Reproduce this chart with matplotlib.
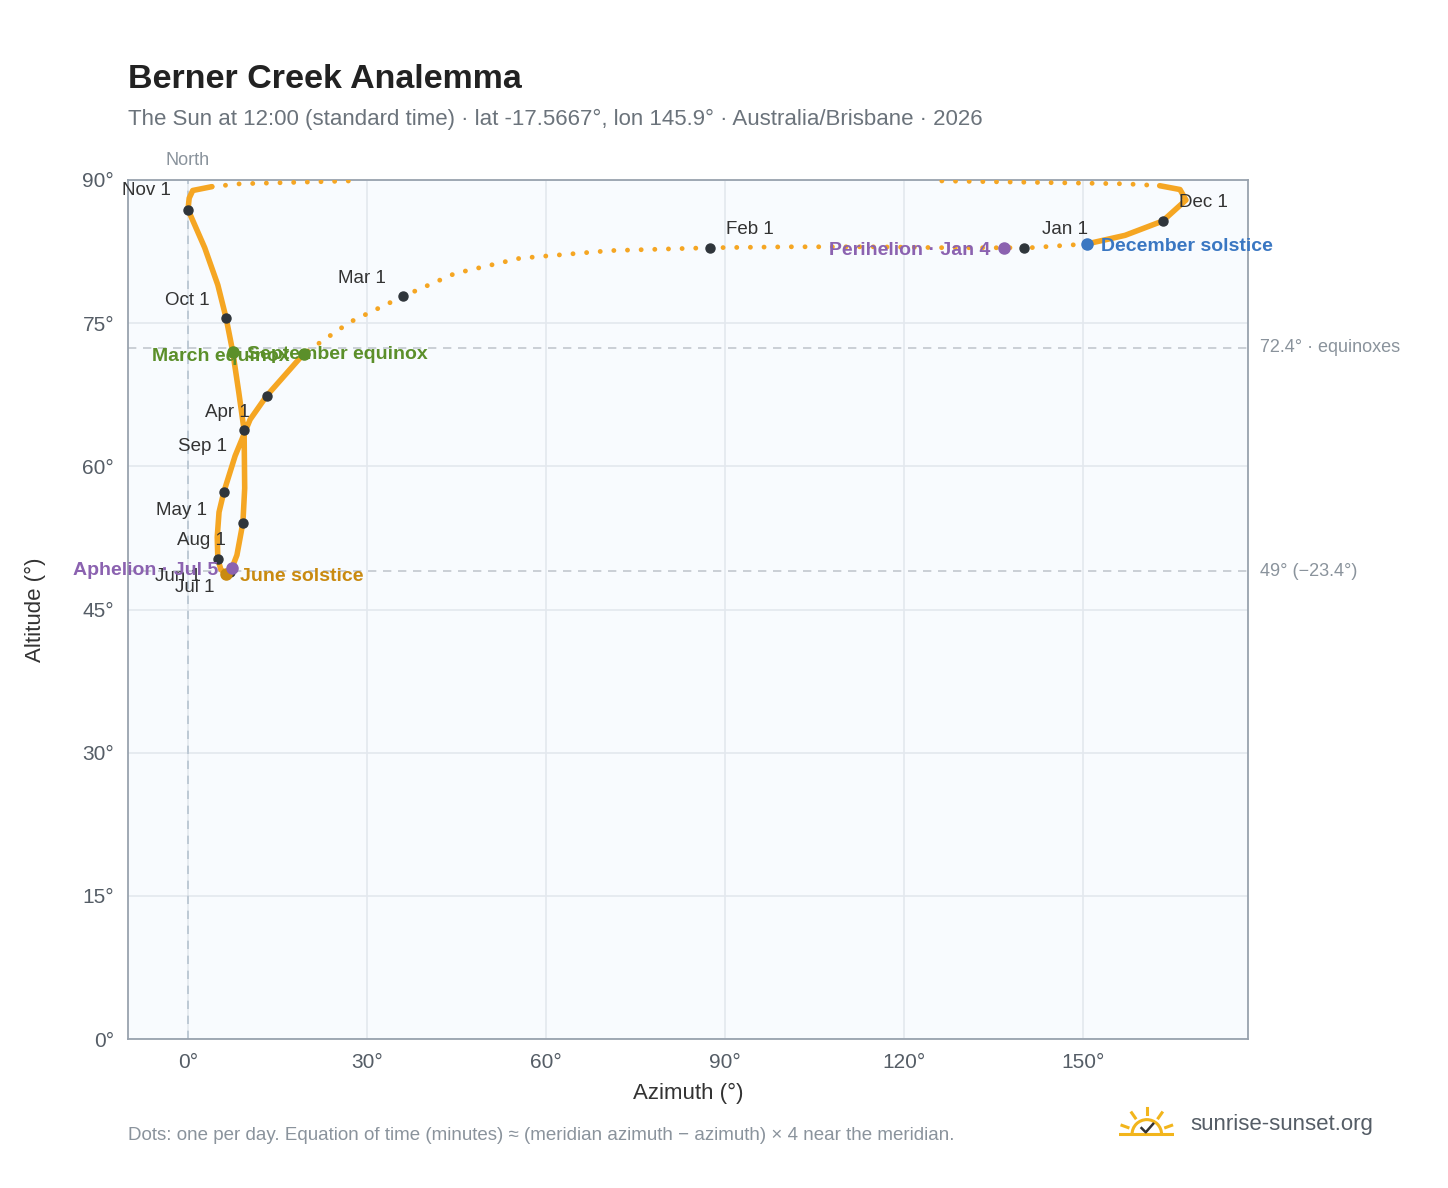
import numpy as np
import matplotlib
matplotlib.use('Agg')
from matplotlib import pyplot as plt
from matplotlib.patches import Arc

plt.rcParams['font.family'] = ['Liberation Sans', 'DejaVu Sans']

# Sun position at 12:00 (azimuth, altitude in degrees)
dates = ['Jan 1', 'Jan 4', 'Jan 10', 'Jan 17', 'Jan 24', 'Feb 1', 'Feb 8', 'Feb 15', 'Feb 22',
         'Mar 1', 'Mar 10', 'Mar 20', 'Apr 1', 'Apr 10', 'Apr 20', 'May 1', 'May 10', 'May 20',
         'Jun 1', 'Jun 10', 'Jun 21', 'Jul 1', 'Jul 5', 'Jul 15', 'Aug 1', 'Aug 15', 'Sep 1',
         'Sep 12', 'Sep 23', 'Oct 1', 'Oct 10', 'Oct 20', 'Nov 1', 'Nov 4', 'Nov 7', 'Nov 10',
         'Nov 13', 'Nov 16', 'Nov 19', 'Nov 22', 'Nov 25', 'Nov 27', 'Nov 29', 'Dec 1', 'Dec 10',
         'Dec 21', 'Dec 31']
azimuth = [140.0, 136.7, 127.6, 114.2, 100.8, 87.4, 70.7, 55.6, 44.7,
           36.0, 27.1, 19.4, 13.2, 10.4, 7.9, 6.0, 5.2, 4.9,
           5.0, 5.5, 6.4, 7.0, 7.4, 8.2, 9.2, 9.5, 9.4,
           8.5, 7.5, 6.4, 5.0, 2.8, 0.0, 0.2, 0.8, 4.0,
           8.7, 27.1, 126.3, 157.0, 162.8, 166.2, 167.2, 163.3, 157.0,
           150.6, 141.0]
altitude = [82.9, 82.9, 82.9, 83.0, 83.0, 82.9, 82.6, 81.8, 80.2,
            77.8, 75.1, 71.8, 67.4, 64.9, 61.1, 57.3, 55.2, 52.6,
            50.3, 49.2, 48.7, 48.9, 49.4, 50.7, 54.1, 57.7, 63.8,
            67.8, 72.0, 75.5, 79.0, 82.9, 86.9, 88.1, 88.9, 89.3,
            89.6, 89.9, 89.9, 89.6, 89.4, 89.0, 87.9, 85.7, 84.2,
            83.3, 82.9]

month_labels = ['Jan 1', 'Feb 1', 'Mar 1', 'Apr 1', 'May 1', 'Jun 1', 'Jul 1', 'Aug 1',
                'Sep 1', 'Oct 1', 'Nov 1', 'Dec 1']
events = {
    'March equinox': ('Mar 20', '#5b8f2a', 'left'),
    'September equinox': ('Sep 23', '#5b8f2a', 'right'),
    'June solstice': ('Jun 21', '#c98a10', 'right'),
    'December solstice': ('Dec 21', '#3a77c2', 'right'),
    'Perihelion · Jan 4': ('Jan 4', '#8b62b0', 'left'),
    'Aphelion · Jul 5': ('Jul 5', '#8b62b0', 'left'),
}

orange = '#f5a623'
dark = '#2f353b'
grey = '#8a939c'

# label offsets in points (dx, dy, ha)
label_pos = {
    'Jan 1': (30, 13, 'center'), 'Feb 1': (12, 13, 'left'), 'Mar 1': (-12, 13, 'right'),
    'Apr 1': (-12, -12, 'right'), 'May 1': (-12, -13, 'right'), 'Jun 1': (-12, -13, 'right'),
    'Jul 1': (-11, -11, 'right'), 'Aug 1': (-12, -13, 'right'), 'Sep 1': (-12, -12, 'right'),
    'Oct 1': (-12, 13, 'right'), 'Nov 1': (-12, 14, 'right'), 'Dec 1': (12, 13, 'left'),
}

fig = plt.figure(figsize=(14.48, 11.88), dpi=100)
ax = fig.add_axes([0.0884, 0.1254, 0.7735, 0.7231])
ax.set_facecolor('#f8fbfe')
az = np.array(azimuth)
alt = np.array(altitude)
idx = {d: i for i, d in enumerate(dates)}

# sparse (fast-moving) parts as dots, dense loop as a solid stroke
dot = dict(color=orange, lw=3.5, ls=(0, (0.01, 2.8)), dash_capstyle='round', zorder=3)
ax.plot(az[:idx['Mar 20'] + 1], alt[:idx['Mar 20'] + 1], **dot)
ax.plot(az[idx['Nov 10']:idx['Nov 16'] + 1], alt[idx['Nov 10']:idx['Nov 16'] + 1], **dot)
ax.plot(az[idx['Nov 19']:idx['Nov 25'] + 1], alt[idx['Nov 19']:idx['Nov 25'] + 1], **dot)
ax.plot(az[idx['Dec 21']:], alt[idx['Dec 21']:], **dot)
solid = dict(color=orange, lw=4, solid_capstyle='round', solid_joinstyle='round', zorder=3)
ax.plot(az[idx['Mar 20']:idx['Nov 10'] + 1], alt[idx['Mar 20']:idx['Nov 10'] + 1], **solid)
ax.plot(az[idx['Nov 25']:idx['Dec 21'] + 1], alt[idx['Nov 25']:idx['Dec 21'] + 1], **solid)

for m in month_labels:
    i = idx[m]
    dx, dy, ha = label_pos[m]
    ax.plot(az[i], alt[i], 'o', color=dark, ms=6.5, zorder=5)
    ax.annotate(m, (az[i], alt[i]), xytext=(dx, dy), textcoords='offset points',
                ha=ha, va='center', fontsize=13.5, color='#333333', zorder=6)

for name, (d, c, side) in events.items():
    i = idx[d]
    ax.plot(az[i], alt[i], 'o', color=c, ms=8, zorder=6)
    dx = 10 if side == 'right' else -10
    ax.annotate(name, (az[i], alt[i]), xytext=(dx, -2), textcoords='offset points',
                ha='left' if side == 'right' else 'right', va='center', fontsize=14,
                color=c, fontweight='bold', zorder=7)

ax.axhline(72.4, color='#c3c8ce', ls=(0, (5, 4)), lw=1.2, zorder=1)
ax.axhline(49, color='#c3c8ce', ls=(0, (5, 4)), lw=1.2, zorder=1)
ax.axvline(0, color='#b7c4d0', ls=(0, (5, 4)), lw=1.2, zorder=1)
ax.text(179.6, 72.4, '72.4° · equinoxes', color=grey, fontsize=13, va='center', ha='left')
ax.text(179.6, 49, '49° (−23.4°)', color=grey, fontsize=13, va='center', ha='left')
ax.text(0, 91.2, 'North', color=grey, fontsize=13, ha='center', va='bottom')

ax.set_xlim(-10.05, 177.6)
ax.set_ylim(0, 90)
ax.set_xticks([0, 30, 60, 90, 120, 150])
ax.set_xticklabels([f'{t}°' for t in [0, 30, 60, 90, 120, 150]])
ax.set_yticks([0, 15, 30, 45, 60, 75, 90])
ax.set_yticklabels([f'{t}°' for t in [0, 15, 30, 45, 60, 75, 90]])
ax.tick_params(colors='#555d66', labelsize=15, length=0, pad=10)
ax.grid(color='#e3e8ee', lw=1.2)
ax.set_axisbelow(True)
for s in ax.spines.values():
    s.set_color('#98a2ae')
    s.set_linewidth(1.3)
ax.set_xlabel('Azimuth (°)', fontsize=16, color='#333333', labelpad=8)
ax.set_ylabel('Altitude (°)', fontsize=16, color='#333333', labelpad=26)

fig.text(0.0884, 0.926, 'Berner Creek Analemma', fontsize=24.5, fontweight='bold', color='#222222')
fig.text(0.0884, 0.895, 'The Sun at 12:00 (standard time) · lat -17.5667°, lon 145.9° · Australia/Brisbane · 2026',
         fontsize=16, color='#6b737b')
fig.text(0.0884, 0.04, 'Dots: one per day. Equation of time (minutes) ≈ (meridian azimuth − azimuth) × 4 near the meridian.',
         fontsize=13.5, color='#8a939c')

# logo
lax = fig.add_axes([0.772, 0.038, 0.04, 0.032])
lax.set_xlim(-1.3, 1.3)
lax.set_ylim(-0.4, 1.4)
lax.set_aspect('equal')
lax.axis('off')
lax.add_patch(Arc((0, 0), 1.4, 1.4, theta1=0, theta2=180, color='#f2b51c', lw=2.2))
for a in np.radians([20, 55, 90, 125, 160]):
    lax.plot([0.95 * np.cos(a), 1.25 * np.cos(a)], [0.95 * np.sin(a), 1.25 * np.sin(a)], color='#f2b51c', lw=2.2)
lax.plot([-1.3, 1.3], [0, 0], color='#f2b51c', lw=2.2)
lax.plot([-0.25, -0.05, 0.3], [0.3, 0.1, 0.5], color='#333333', lw=1.8)
fig.text(0.822, 0.0535, 'sunrise-sunset.org', fontsize=16, color='#555d66', va='center')

fig.savefig('out.png', dpi=100)
